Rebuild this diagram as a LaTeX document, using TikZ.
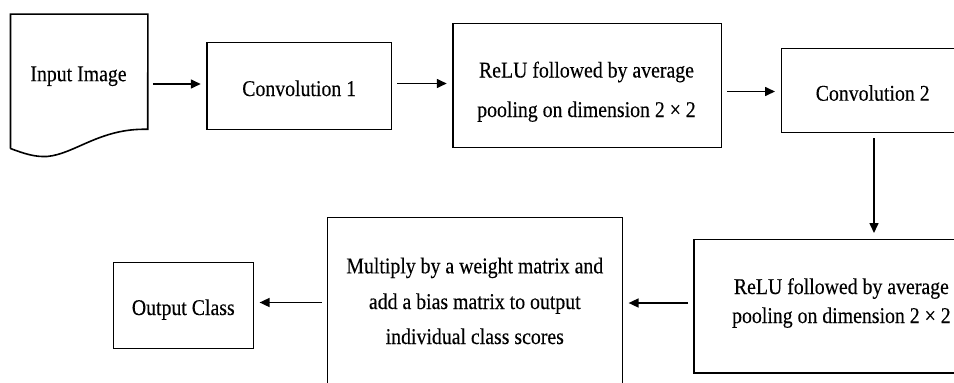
\documentclass[tikz,border=0pt]{standalone}
\usepackage{fontspec}
\usepackage{graphicx}
\setmainfont{Liberation Serif}
\newfontfamily\diagfont[FakeBold=0.25]{Liberation Serif}
\usetikzlibrary{arrows.meta}

% slightly condensed serif lettering
\newcommand{\narrowtext}[1]{\scalebox{0.88}[1]{#1}}

\tikzset{
  block/.style={draw, line width=1.6pt, rectangle, inner sep=0pt},
  ghost/.style={rectangle, inner sep=0pt},
  txt/.style={anchor=base, inner sep=0pt, font=\diagfont\fontsize{22.5}{27}\selectfont},
  flow/.style={line width=1.6pt, -{Triangle[length=10pt,width=9pt]},
               shorten <=5pt, shorten >=5.5pt},
}

\begin{document}
\begin{tikzpicture}[x=1pt,y=-1pt]
\useasboundingbox (0,0) rectangle (954,383);
\fill[white] (0,0) rectangle (954,383);
\clip (0,0) rectangle (954,383);

% input document (wavy bottom edge)
\node[ghost, minimum width=137pt, minimum height=134pt] (inp) at (79.2,81.3) {};
\draw[line width=1.6pt, line join=miter]
  (inp.south west) -- (inp.north west) -- (inp.north east) -- (147.7,129.3)
  .. controls (100,128) and (75,154) .. (47,156.5)
  .. controls (35,157) and (25,154) .. (inp.south west);
\node[txt] (tinp) at (78.5,81.2) {\narrowtext{Input Image}};

% top row
\node[block, minimum width=184.3pt, minimum height=87pt] (c1) at (299.2,86) {};
\node[txt] (tc1) at (299.2,96) {\narrowtext{Convolution 1}};

\node[block, minimum width=268.3pt, minimum height=124pt] (r1) at (587.2,85.3) {};
\node[txt] (tr1a) at (586.5,77.5) {\narrowtext{ReLU followed by average}};
\node[txt] (tr1b) at (586.5,117) {\narrowtext{pooling on dimension 2 × 2}};

\node[block, minimum width=182.7pt, minimum height=84pt] (c2) at (872.65,90.3) {};
\node[txt] (tc2) at (872.7,100.7) {\narrowtext{Convolution 2}};

% bottom row
\node[block, minimum width=294.7pt, minimum height=133.4pt] (r2) at (841.35,306) {};
\node[txt] (tr2a) at (841.4,294) {\narrowtext{ReLU followed by average}};
\node[txt] (tr2b) at (841.4,323) {\narrowtext{pooling on dimension 2 × 2}};

\node[block, minimum width=295pt, minimum height=177.7pt] (fc) at (474.8,306.15) {};
\node[txt] (tfca) at (474.8,273.3) {\narrowtext{Multiply by a weight matrix and}};
\node[txt] (tfcb) at (474.8,309) {\narrowtext{add a bias matrix to output}};
\node[txt] (tfcc) at (474.8,344) {\narrowtext{individual class scores}};

\node[block, minimum width=140pt, minimum height=86pt] (out) at (183.3,305.3) {};
\node[txt] (tout) at (183.3,315) {\narrowtext{Output Class}};

% connectors
\draw[flow] (inp.east |- 0,84)   -- (c1.west |- 0,84);
\draw[flow] (c1.east |- 0,83.5)  -- (r1.west |- 0,83.5);
\draw[flow] (r1.east |- 0,91.5)  -- (c2.west |- 0,91.5);
\draw[flow] (c2.south -| 874,0)  -- (r2.north -| 874,0);
\draw[flow] (r2.west |- 0,303)   -- (fc.east |- 0,303);
\draw[flow] (fc.west |- 0,302.5) -- (out.east |- 0,302.5);
\end{tikzpicture}
\end{document}
